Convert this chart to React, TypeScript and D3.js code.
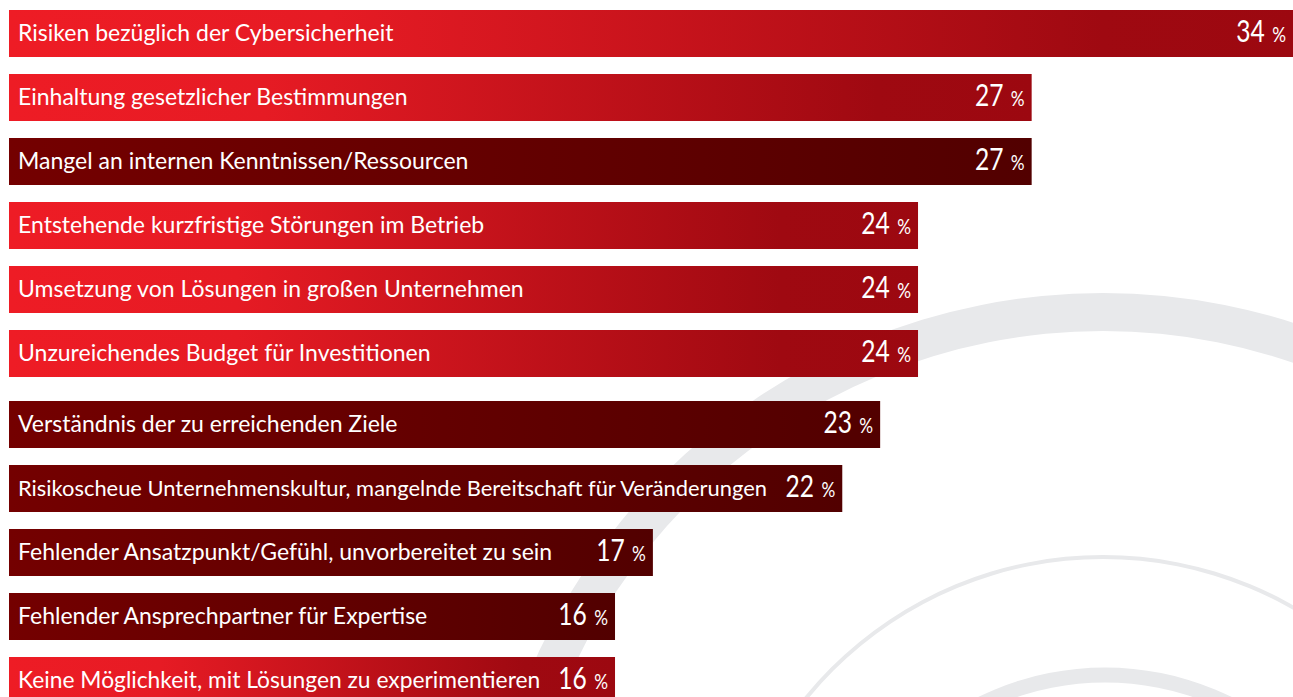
import React, { useLayoutEffect, useRef } from "react";
import * as d3 from "d3";

const categories: string[] = [
  "Risiken bezüglich der Cybersicherheit",
  "Einhaltung gesetzlicher Bestimmungen",
  "Mangel an internen Kenntnissen/Ressourcen",
  "Entstehende kurzfristige Störungen im Betrieb",
  "Umsetzung von Lösungen in großen Unternehmen",
  "Unzureichendes Budget für Investitionen",
  "Verständnis der zu erreichenden Ziele",
  "Risikoscheue Unternehmenskultur, mangelnde Bereitschaft für Veränderungen",
  "Fehlender Ansatzpunkt/Gefühl, unvorbereitet zu sein",
  "Fehlender Ansprechpartner für Expertise",
  "Keine Möglichkeit, mit Lösungen zu experimentieren",
];
const values: number[] = [34, 27, 27, 24, 24, 24, 23, 22, 17, 16, 16];
const tones: string[] = ["red", "red", "dark", "red", "red", "red", "dark", "dark", "dark", "dark", "red"];
const groups: number[] = [0, 0, 0, 0, 0, 0, 1, 1, 1, 1, 1];

const W = 1293;
const H = 697;
const LABEL_FONT = "Lato, 'Open Sans', sans-serif";
const NUM_FONT = "Lato, 'Open Sans', sans-serif";
const NUM_SCALE = 0.82;
const LABEL_SIZE = 23;

export default function App() {
  const labelRefs = useRef<(SVGTextElement | null)[]>([]);
  const valueRefs = useRef<(SVGTextElement | null)[]>([]);

  const x = d3.scaleLinear().domain([0, 33.9]).range([9, W]);
  const step = 64;
  const groupGap = 7;
  const barH = 47;
  const labelX = 18;
  const yPos = (i: number) => 10 + i * step + groups[i] * groupGap;

  useLayoutEffect(() => {
    categories.forEach((_, i) => {
      const lab = labelRefs.current[i];
      const val = valueRefs.current[i];
      if (!lab || !val) return;
      const xr = Math.min(x(values[i]), W) - 7;
      const vw = val.getBBox().width * NUM_SCALE;
      const maxW = xr - vw - 18 - labelX;
      const len = lab.getComputedTextLength();
      if (len > maxW) {
        lab.setAttribute("font-size", String((LABEL_SIZE * maxW) / len));
      }
    });
  }, []);

  const arcs = [
    { cx: 1103, cy: 916, r: 604, w: 38 },
    { cx: 1103, cy: 940, r: 383, w: 4 },
    { cx: 1105, cy: 955, r: 280, w: 15 },
  ];
  const arcGen = d3.arc();

  return (
    <svg
      width={W}
      height={H}
      style={{ position: "absolute", left: 0, top: 0, background: "#ffffff" }}
    >
      <defs>
        <linearGradient id="gRed" x1="0" y1="0" x2="1" y2="0">
          <stop offset="0" stopColor="#ee1c25" />
          <stop offset="0.25" stopColor="#e61b24" />
          <stop offset="0.85" stopColor="#9f0911" />
          <stop offset="1" stopColor="#9c0810" />
        </linearGradient>
        <linearGradient id="gDark" x1="0" y1="0" x2="1" y2="0">
          <stop offset="0" stopColor="#740000" />
          <stop offset="1" stopColor="#520000" />
        </linearGradient>
      </defs>
      <rect x={0} y={0} width={W} height={H} fill="#ffffff" />
      {arcs.map((a, i) => (
        <path
          key={"arc" + i}
          transform={`translate(${a.cx},${a.cy})`}
          d={
            arcGen({
              innerRadius: a.r - a.w / 2,
              outerRadius: a.r + a.w / 2,
              startAngle: 0,
              endAngle: 2 * Math.PI,
            } as any) || ""
          }
          fill="#e8e9eb"
        />
      ))}
      {categories.map((c, i) => {
        const y0 = yPos(i);
        const xe = x(values[i]);
        const xr = Math.min(xe, W);
        return (
          <g key={c}>
            <rect
              x={x(0)}
              y={y0}
              width={xe - x(0)}
              height={barH}
              fill={tones[i] === "red" ? "url(#gRed)" : "url(#gDark)"}
            />
            <text
              ref={(el) => {
                labelRefs.current[i] = el;
              }}
              x={labelX}
              y={y0 + 31}
              fill="#ffffff"
              fontFamily={LABEL_FONT}
              fontSize={LABEL_SIZE}
            >
              {c}
            </text>
            <text
              ref={(el) => {
                valueRefs.current[i] = el;
              }}
              transform={`translate(${xr - 7},${y0 + 32}) scale(${NUM_SCALE},1)`}
              fill="#ffffff"
              fontFamily={NUM_FONT}
              textAnchor="end"
            >
              <tspan fontSize={30}>{values[i]}</tspan>
              <tspan fontSize={21} dx={9}>%</tspan>
            </text>
          </g>
        );
      })}
    </svg>
  );
}
